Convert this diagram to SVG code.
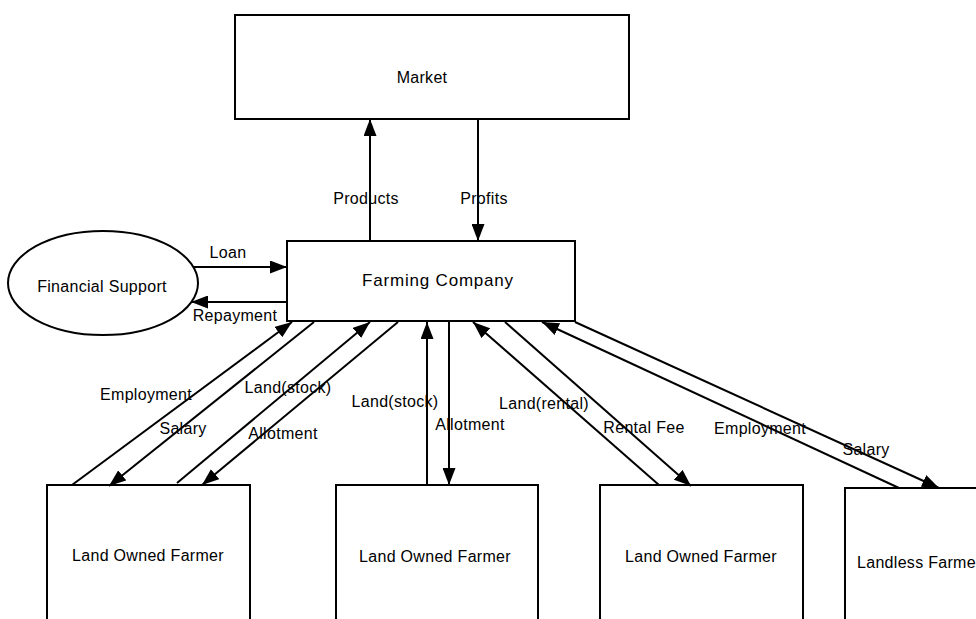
<svg xmlns="http://www.w3.org/2000/svg" width="976" height="619" viewBox="0 0 976 619">
<defs>
<marker id="ah" markerUnits="userSpaceOnUse" markerWidth="17" markerHeight="13" refX="17" refY="6.5" orient="auto">
<path d="M0,0 L17,6.5 L0,13 z" fill="#000"/>
</marker>
<style>
.node{fill:#fff;stroke:#000;stroke-width:2}
.t{font-family:"Liberation Sans",Arial,sans-serif;font-size:16px;fill:#000;text-anchor:middle;letter-spacing:0.3px}
.e{stroke:#000;stroke-width:2;fill:none;marker-end:url(#ah)}
</style>
</defs>
<rect width="976" height="619" fill="#fff"/>
<g id="market"><rect class="node" x="235" y="15" width="394" height="104"/><text class="t" x="422" y="83">Market</text></g>
<g id="farming-company"><rect class="node" x="287" y="241" width="288" height="80"/><text class="t" x="438" y="286" style="font-size:17px;letter-spacing:0.8px">Farming Company</text></g>
<g id="financial-support"><ellipse class="node" cx="103" cy="283" rx="95" ry="52"/><text class="t" x="102" y="292">Financial Support</text></g>
<g id="farmer1"><rect class="node" x="47" y="485" width="203" height="145"/><text class="t" x="148" y="561">Land Owned Farmer</text></g>
<g id="farmer2"><rect class="node" x="336" y="485" width="202" height="145"/><text class="t" x="435" y="562">Land Owned Farmer</text></g>
<g id="farmer3"><rect class="node" x="600" y="485" width="203" height="145"/><text class="t" x="701" y="562">Land Owned Farmer</text></g>
<g id="landless-farmer"><rect class="node" x="845" y="488" width="203" height="145"/><text class="t" x="857" y="568" style="text-anchor:start">Landless Farmer</text></g>
<g id="connectors">
<line class="e" x1="370" y1="241" x2="370" y2="119"/>
<line class="e" x1="478" y1="119" x2="478" y2="241"/>
<line class="e" x1="193" y1="267" x2="287" y2="267"/>
<line class="e" x1="287" y1="302" x2="191" y2="302"/>
<line class="e" x1="72" y1="485" x2="292" y2="322"/>
<line class="e" x1="314" y1="322" x2="109" y2="486"/>
<line class="e" x1="177" y1="483" x2="370" y2="322"/>
<line class="e" x1="398" y1="322" x2="202" y2="485"/>
<line class="e" x1="427" y1="485" x2="427" y2="322"/>
<line class="e" x1="449" y1="322" x2="449" y2="485"/>
<line class="e" x1="659" y1="485" x2="473" y2="322"/>
<line class="e" x1="505" y1="322" x2="691" y2="486"/>
<line class="e" x1="899" y1="488" x2="542" y2="322"/>
<line class="e" x1="575" y1="322" x2="939" y2="488"/>
</g>
<g id="labels">
<text class="t" x="366" y="204">Products</text>
<text class="t" x="484" y="204">Profits</text>
<text class="t" x="228" y="258">Loan</text>
<text class="t" x="235" y="321">Repayment</text>
<text class="t" x="146" y="400">Employment</text>
<text class="t" x="183" y="434">Salary</text>
<text class="t" x="288" y="393">Land(stock)</text>
<text class="t" x="283" y="439">Allotment</text>
<text class="t" x="395" y="407">Land(stock)</text>
<text class="t" x="470" y="430">Allotment</text>
<text class="t" x="544" y="409">Land(rental)</text>
<text class="t" x="644" y="433">Rental Fee</text>
<text class="t" x="760" y="434">Employment</text>
<text class="t" x="866" y="455">Salary</text>
</g>
</svg>
